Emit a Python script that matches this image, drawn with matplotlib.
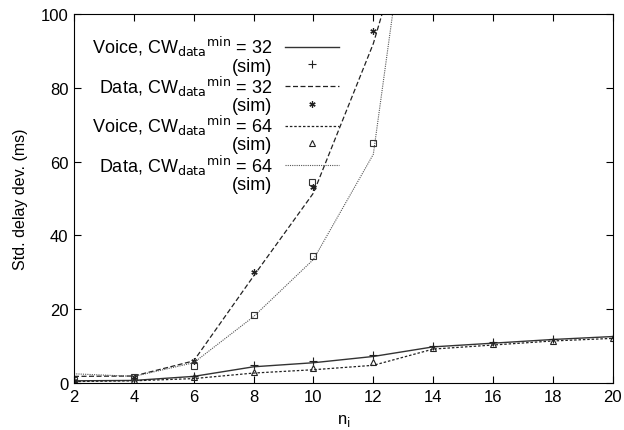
import matplotlib
matplotlib.use("Agg")
import matplotlib.pyplot as plt

# model curves
n_voice = [2, 4, 6, 8, 10, 12, 14, 16, 18, 20]
voice32 = [0.6, 0.7, 1.8, 4.4, 5.5, 7.2, 9.8, 10.8, 11.8, 12.6]
voice64 = [0.4, 0.6, 1.2, 2.7, 3.6, 4.8, 9.2, 10.3, 11.4, 12.1]
n_data = [2, 4, 6, 8, 10, 12, 14]
data32 = [1.8, 1.9, 6.0, 29.0, 51.5, 92.0, 147.0]
data64 = [2.5, 1.8, 5.5, 18.0, 33.5, 62.0, 180.0]

# simulation points
n_sim_voice = [2, 4, 6, 8, 10, 12, 14, 16, 18, 20]
voice32_sim = [0.5, 0.7, 2.0, 4.8, 6.0, 7.6, 10.0, 11.0, 11.8, 12.3]
voice64_sim = [0.5, 0.7, 1.5, 3.1, 4.2, 5.6, 9.4, 10.5, 11.4, 12.2]
n_sim_data = [2, 4, 6, 8, 10, 12]
data32_sim = [0.5, 1.5, 6.0, 30.0, 53.0, 95.5]
data64_sim = [0.8, 1.5, 4.5, 18.5, 34.5, 65.0]

plt.rcParams["font.family"] = "Liberation Sans"
fig = plt.figure(figsize=(6.24, 4.31), dpi=100)
ax = fig.add_axes([0.1186, 0.109, 0.8634, 0.856])

cw = r"CW$_{\rm data}$$^{\rm min}$"
ax.plot(n_voice, voice32, "-", color="#333333", lw=1.0, label="Voice, " + cw + " = 32")
ax.plot(n_sim_voice, voice32_sim, "+", color="#222222", ms=6, mew=0.8, label="(sim)")
ax.plot(n_data, data32, color="#222222", lw=0.9, dashes=(4, 2), label="Data, " + cw + " = 32")
ax.plot(n_sim_data, data32_sim, marker=(6, 2, 0), ls="none", color="#222222", ms=4.5, mew=0.9,
        label="(sim)")
ax.plot(n_voice, voice64, color="#222222", lw=0.9, dashes=(2, 1.5), label="Voice, " + cw + " = 64")
ax.plot(n_sim_voice, voice64_sim, "^", mfc="none", mec="#222222", ms=4, mew=0.8, label="(sim)")
ax.plot(n_data, data64, color="#555555", lw=0.8, dashes=(1, 1), label="Data, " + cw + " = 64")
ax.plot(n_sim_data, data64_sim, "s", mfc="none", mec="#333333", ms=5, mew=0.8, label="(sim)")

ax.set_xlim(2, 20)
ax.set_ylim(0, 100)
ax.set_xticks(range(2, 21, 2))
ax.set_yticks(range(0, 101, 20))
ax.tick_params(direction="in", top=True, right=True, labelsize=12, length=5, pad=4)
ax.set_xlabel(r"n$_{\rm i}$", fontsize=12, labelpad=6)
ax.set_ylabel("Std. delay dev. (ms)", fontsize=11.5, labelpad=9)

ax.legend(loc="upper left", bbox_to_anchor=(0.02, 0.965), frameon=False, markerfirst=False,
          fontsize=13, handlelength=3.0, labelspacing=-0.05, handletextpad=0.7,
          borderaxespad=0)

fig.savefig("out.png", dpi=100)
